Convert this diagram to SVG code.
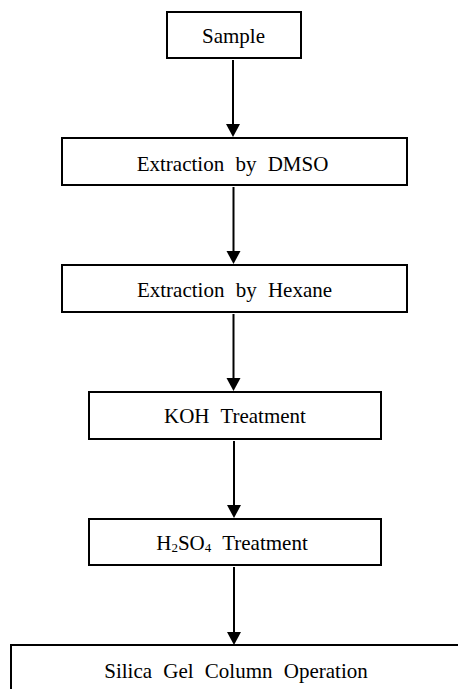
<svg xmlns="http://www.w3.org/2000/svg" width="458" height="689" viewBox="0 0 458 689">
<style>
.box{fill:#fff;stroke:#000;stroke-width:2}
.lbl{font-family:"Liberation Serif","Times New Roman",serif;font-size:21px;fill:#000;text-anchor:middle;word-spacing:6px}
.sub{font-size:13px}
.conn line{stroke:#000;stroke-width:2}
.conn polygon{fill:#000}
</style>
<rect x="0" y="0" width="458" height="689" fill="#fff"/>
<g id="connectors" class="conn">
  <line x1="233" y1="60" x2="233" y2="128"/>
  <polygon points="226,124 240,124 233,137"/>
  <line x1="233.5" y1="187" x2="233.5" y2="255"/>
  <polygon points="226.5,251 240.5,251 233.5,264"/>
  <line x1="233.5" y1="314" x2="233.5" y2="382"/>
  <polygon points="226.5,378 240.5,378 233.5,391"/>
  <line x1="234" y1="441" x2="234" y2="509"/>
  <polygon points="227,505 241,505 234,518"/>
  <line x1="234" y1="567" x2="234" y2="636"/>
  <polygon points="227,632 241,632 234,645"/>
</g>
<g id="node-sample">
  <rect class="box" x="167" y="12" width="134" height="46"/>
  <text class="lbl" x="233.5" y="43">Sample</text>
</g>
<g id="node-dmso">
  <rect class="box" x="62" y="138" width="345" height="47"/>
  <text class="lbl" x="232.5" y="171">Extraction by DMSO</text>
</g>
<g id="node-hexane">
  <rect class="box" x="62" y="265" width="345" height="47"/>
  <text class="lbl" x="234.5" y="297">Extraction by Hexane</text>
</g>
<g id="node-koh">
  <rect class="box" x="89" y="392" width="292" height="47"/>
  <text class="lbl" x="235" y="423">KOH Treatment</text>
</g>
<g id="node-h2so4">
  <rect class="box" x="89" y="519" width="292" height="46"/>
  <text class="lbl" x="232" y="550">H<tspan class="sub" dy="2">2</tspan><tspan dy="-2">SO</tspan><tspan class="sub" dy="2">4</tspan><tspan dy="-2"> Treatment</tspan></text>
</g>
<g id="node-silica">
  <path d="M11,700 V645 H460" fill="#fff" stroke="#000" stroke-width="2"/>
  <text class="lbl" x="236" y="678">Silica Gel Column Operation</text>
</g>
</svg>
